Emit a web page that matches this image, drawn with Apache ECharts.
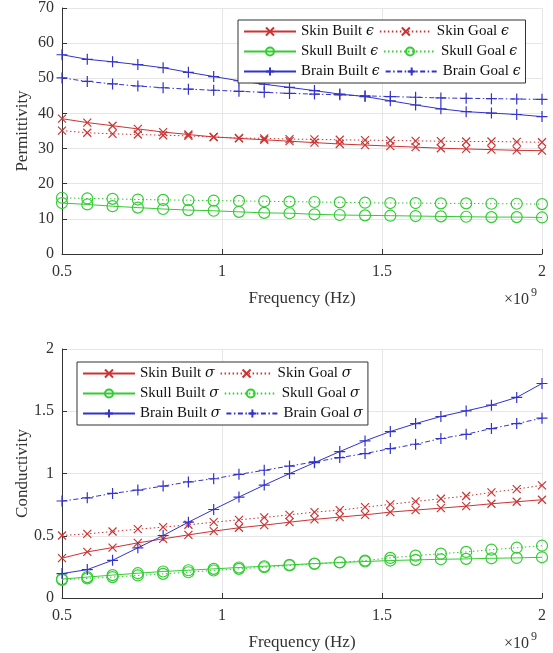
<!DOCTYPE html>
<html>
<head>
<meta charset="utf-8">
<script src="https://cdn.jsdelivr.net/npm/echarts@6/dist/echarts.min.js"></script>
<style>html,body{margin:0;padding:0;background:#fff;}#c{width:553px;height:653px;}</style>
</head>
<body>
<div id="c"></div>
<script>
// Frequency (GHz, axis shows ×10^9 Hz)
const freq = [0.5, 0.579, 0.658, 0.737, 0.816, 0.895, 0.974, 1.053, 1.132, 1.211, 1.289, 1.368, 1.447, 1.526, 1.605, 1.684, 1.763, 1.842, 1.921, 2.0];

// Permittivity
const skinBuiltEps  = [38.5, 37.4, 36.5, 35.6, 34.7, 34.0, 33.3, 32.9, 32.5, 32.1, 31.7, 31.3, 31.0, 30.7, 30.4, 30.1, 29.9, 29.7, 29.5, 29.4];
const skinGoalEps   = [35.1, 34.5, 34.2, 34.0, 33.8, 33.6, 33.3, 33.0, 32.9, 32.7, 32.6, 32.5, 32.4, 32.3, 32.2, 32.1, 32.0, 32.0, 31.9, 31.8];
const skullBuiltEps = [14.5, 14.1, 13.6, 13.2, 12.8, 12.5, 12.3, 12.0, 11.7, 11.6, 11.3, 11.1, 11.0, 10.9, 10.8, 10.7, 10.6, 10.5, 10.5, 10.4];
const skullGoalEps  = [16.0, 15.8, 15.7, 15.5, 15.4, 15.3, 15.2, 15.1, 15.0, 14.9, 14.8, 14.7, 14.6, 14.5, 14.5, 14.4, 14.4, 14.3, 14.3, 14.2];
const brainBuiltEps = [56.7, 55.4, 54.7, 53.9, 53.0, 51.7, 50.5, 49.3, 48.3, 47.4, 46.5, 45.5, 44.8, 43.6, 42.4, 41.3, 40.5, 40.1, 39.7, 39.1];
const brainGoalEps  = [50.1, 49.1, 48.4, 47.8, 47.3, 46.9, 46.6, 46.3, 46.0, 45.7, 45.5, 45.3, 45.0, 44.8, 44.6, 44.4, 44.3, 44.2, 44.1, 44.0];

// Conductivity
const skinBuiltSig  = [0.32, 0.37, 0.405, 0.443, 0.475, 0.507, 0.537, 0.564, 0.585, 0.609, 0.631, 0.650, 0.668, 0.690, 0.706, 0.722, 0.738, 0.757, 0.773, 0.789];
const skinGoalSig   = [0.502, 0.515, 0.534, 0.553, 0.569, 0.588, 0.609, 0.628, 0.647, 0.668, 0.690, 0.706, 0.730, 0.752, 0.776, 0.797, 0.819, 0.848, 0.875, 0.905];
const skullBuiltSig = [0.152, 0.168, 0.184, 0.199, 0.213, 0.223, 0.234, 0.245, 0.255, 0.266, 0.277, 0.285, 0.293, 0.301, 0.306, 0.311, 0.314, 0.319, 0.322, 0.327];
const skullGoalSig  = [0.146, 0.157, 0.168, 0.181, 0.194, 0.207, 0.221, 0.234, 0.247, 0.261, 0.274, 0.287, 0.301, 0.322, 0.340, 0.356, 0.370, 0.388, 0.404, 0.420];
const brainBuiltSig = [0.196, 0.228, 0.303, 0.403, 0.502, 0.609, 0.711, 0.811, 0.907, 0.999, 1.087, 1.176, 1.262, 1.337, 1.401, 1.458, 1.503, 1.549, 1.611, 1.723];
const brainGoalSig  = [0.779, 0.805, 0.840, 0.867, 0.899, 0.932, 0.958, 0.993, 1.026, 1.060, 1.093, 1.128, 1.160, 1.200, 1.235, 1.281, 1.315, 1.361, 1.401, 1.444];

const xTicks = [0.5, 1, 1.5, 2];
const epsTicks = [0, 10, 20, 30, 40, 50, 60, 70];
const sigTicks = [0, 0.5, 1, 1.5, 2];

const FONT = "'Liberation Serif', 'DejaVu Serif', serif";
const RED = '#cc3333', GREEN = '#33cc33', BLUE = '#3333cc';
const SYM_X = 'path://M0,0L10,10M10,0L0,10';
const SYM_P = 'path://M5,0L5,10M0,5L10,5';

function mk(name, arr, color, sym, size, lineType, gi) {
  return {
    type: 'line', name: name, xAxisIndex: gi, yAxisIndex: gi,
    data: freq.map((f, i) => [f, arr[i]]),
    color: color,
    symbol: sym, symbolSize: size, showAllSymbol: true,
    itemStyle: { color: 'rgba(0,0,0,0)', borderColor: color, borderWidth: 1.2 },
    lineStyle: { color: color, width: 1, type: lineType },
    emphasis: { disabled: true },
    z: 3
  };
}
const DOT = [1.5, 2.5];
const DASHDOT = [5, 2.5, 1.5, 2.5];

const series = [
  mk('Skin Built ϵ', skinBuiltEps, RED, SYM_X, 8, 'solid', 0),
  mk('Skin Goal ϵ', skinGoalEps, RED, SYM_X, 8, DOT, 0),
  mk('Skull Built ϵ', skullBuiltEps, GREEN, 'circle', 11, 'solid', 0),
  mk('Skull Goal ϵ', skullGoalEps, GREEN, 'circle', 11, DOT, 0),
  mk('Brain Built ϵ', brainBuiltEps, BLUE, SYM_P, 11, 'solid', 0),
  mk('Brain Goal ϵ', brainGoalEps, BLUE, SYM_P, 11, DASHDOT, 0),
  mk('Skin Built σ', skinBuiltSig, RED, SYM_X, 8, 'solid', 1),
  mk('Skin Goal σ', skinGoalSig, RED, SYM_X, 8, DOT, 1),
  mk('Skull Built σ', skullBuiltSig, GREEN, 'circle', 11, 'solid', 1),
  mk('Skull Goal σ', skullGoalSig, GREEN, 'circle', 11, DOT, 1),
  mk('Brain Built σ', brainBuiltSig, BLUE, SYM_P, 11, 'solid', 1),
  mk('Brain Goal σ', brainGoalSig, BLUE, SYM_P, 11, DASHDOT, 1)
];

function xAxis(gi) {
  return {
    type: 'value', gridIndex: gi, min: 0.5, max: 2, interval: 0.5,
    name: 'Frequency (Hz)', nameLocation: 'middle', nameGap: 36,
    nameTextStyle: { fontFamily: FONT, fontSize: 17, color: '#333' },
    axisLine: { show: true, lineStyle: { color: '#333', width: 1 } },
    axisTick: { show: true, inside: true, length: 5, lineStyle: { color: '#333' } },
    axisLabel: { fontFamily: FONT, fontSize: 16, color: '#333', margin: 10,
      formatter: v => (xTicks.indexOf(v) >= 0 ? String(v) : '') },
    splitLine: { show: true, lineStyle: { color: '#e6e6e6', width: 1 } }
  };
}
function yAxis(gi, name, max, interval, ticks) {
  return {
    type: 'value', gridIndex: gi, min: 0, max: max, interval: interval,
    name: name, nameLocation: 'middle', nameGap: 31, nameMoveOverlap: false,
    nameTextStyle: { fontFamily: FONT, fontSize: 17, color: '#333' },
    axisLine: { show: true, lineStyle: { color: '#333', width: 1 } },
    axisTick: { show: true, inside: true, length: 5, lineStyle: { color: '#333' } },
    axisLabel: { fontFamily: FONT, fontSize: 16, color: '#333', margin: 8,
      formatter: v => (ticks.indexOf(v) >= 0 ? String(v) : '') },
    splitLine: { show: true, lineStyle: { color: '#e6e6e6', width: 1 } }
  };
}

function legend(names, left, top, w) {
  return {
    data: names, left: left, top: top, width: w, orient: 'horizontal',
    padding: [4, 5, 4, 5], itemGap: 5, itemWidth: 52, itemHeight: 10,
    backgroundColor: '#fff', borderColor: '#333', borderWidth: 1, borderRadius: 0,
    selectedMode: false,
    formatter: n => n.replace(/ ([ϵσ])$/, ' {g|$1}'),
    textStyle: {
      fontFamily: FONT, fontSize: 15, color: '#111', width: 82,
      rich: { g: { fontFamily: "'DejaVu Serif', serif", fontStyle: 'italic', fontSize: 14, color: '#111' } }
    }
  };
}

const chart = echarts.init(document.getElementById('c'), null, { renderer: 'canvas' });
chart.setOption({
  animation: false,
  backgroundColor: '#fff',
  grid: [
    { left: 62, right: 11, top: 5, height: 249, containLabel: false },
    { left: 62, right: 11, top: 349, height: 249, containLabel: false }
  ],
  xAxis: [xAxis(0), xAxis(1)],
  yAxis: [yAxis(0, 'Permittivity', 70, 10, epsTicks), yAxis(1, 'Conductivity', 2, 0.5, sigTicks)],
  legend: [
    legend(series.slice(0, 6).map(s => s.name), 238, 20, 296),
    legend(series.slice(6).map(s => s.name), 77, 362, 296)
  ],
  graphic: [
    { type: 'text', left: 504, top: 292, style: { text: '×10', fontFamily: FONT, fontSize: 16, fill: '#333' } },
    { type: 'text', left: 531, top: 287, style: { text: '9', fontFamily: FONT, fontSize: 12, fill: '#333' } },
    { type: 'text', left: 504, top: 636, style: { text: '×10', fontFamily: FONT, fontSize: 16, fill: '#333' } },
    { type: 'text', left: 531, top: 631, style: { text: '9', fontFamily: FONT, fontSize: 12, fill: '#333' } }
  ],
  series: series
});
</script>
</body>
</html>
